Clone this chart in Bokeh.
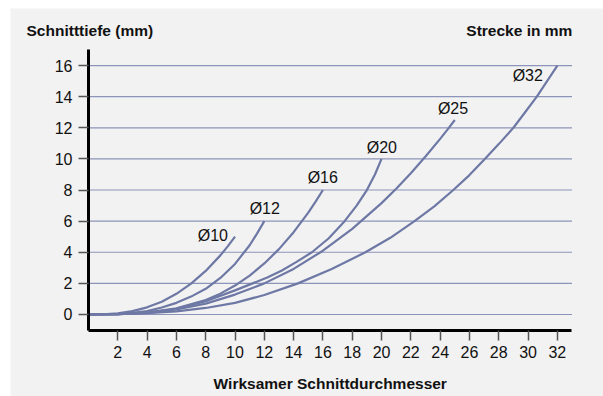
from bokeh.plotting import figure
from bokeh.models import Range1d, FixedTicker, Label
from bokeh.embed import file_html
from bokeh.resources import INLINE
from bokeh.core.properties import value

# ---- data ----
x_ticks = [2, 4, 6, 8, 10, 12, 14, 16, 18, 20, 22, 24, 26, 28, 30, 32]
y_ticks = [0, 2, 4, 6, 8, 10, 12, 14, 16]
x_axis_extent = (0, 33)
y_axis_extent = (-1, 17)

d10_x = [0, 1, 2, 3, 4, 5, 6, 7, 8, 9, 9.5, 10]
d10_y = [0, 0.01, 0.07, 0.22, 0.46, 0.82, 1.33, 1.98, 2.8, 3.8, 4.38, 5]

d12_x = [0, 2, 3, 4, 5, 6, 7, 8, 9, 10, 11, 11.5, 12]
d12_y = [0, 0.03, 0.1, 0.22, 0.45, 0.75, 1.15, 1.65, 2.35, 3.25, 4.45, 5.2, 6]

d16_x = [0, 2, 4, 6, 8, 9, 10, 11, 12, 13, 14, 15, 15.5, 16]
d16_y = [0, 0.02, 0.13, 0.4, 0.93, 1.34, 1.86, 2.5, 3.28, 4.2, 5.29, 6.55, 7.25, 8]

d20_x = [0, 2, 4, 6, 8, 10, 11.2, 12.2, 13.2, 14.2, 15.25, 16.4, 17.48, 18.3, 19, 19.55, 20]
d20_y = [0, 0.02, 0.12, 0.36, 0.85, 1.55, 2, 2.38, 2.83, 3.38, 4, 4.9, 6, 7, 8, 9, 10]

d25_x = [0, 2, 4, 6, 8, 10, 12, 14, 16, 18, 20, 21, 22, 23, 24, 24.5, 25]
d25_y = [0, 0.02, 0.11, 0.33, 0.7, 1.28, 2.0, 2.93, 4.1, 5.5, 7.16, 8.08, 9.08, 10.15, 11.29, 11.88, 12.5]

d32_x = [0, 2, 4, 6, 8, 10, 12, 14.3, 16.6, 18.9, 20.6, 22.25, 23.6, 24.9, 26, 27.05, 28, 29, 29.8, 30.6, 31.3, 32]
d32_y = [0, 0.02, 0.08, 0.2, 0.42, 0.75, 1.25, 2, 2.92, 4, 4.93, 6, 6.95, 8, 8.96, 10, 10.95, 12, 13, 14, 15, 16]

curve_names = ["Ø10", "Ø12", "Ø16", "Ø20", "Ø25", "Ø32"]
label_x = [8.49, 12.03, 15.99, 20.02, 24.88, 29.98]
label_y = [5.08, 6.82, 8.79, 10.76, 13.24, 15.39]

curves_x = [d10_x, d12_x, d16_x, d20_x, d25_x, d32_x]
curves_y = [d10_y, d12_y, d16_y, d20_y, d25_y, d32_y]

y_title = "Schnitttiefe (mm)"
right_title = "Strecke in mm"
x_title = "Wirksamer Schnittdurchmesser"

# ---- styling ----
BG = "#f2f2f2"
CURVE = "#6e78a5"
GRID = "#8c94ba"
FONT = "Liberation Sans"
TXT = "#111111"

p = figure(width=593, height=388, output_backend="svg",
           toolbar_location=None,
           x_range=Range1d(-5.324, 35.15), y_range=Range1d(-5.27, 19.666),
           min_border=0)
p.margin = (8, 0, 0, 10)
p.title.visible = False
p.background_fill_color = BG
p.border_fill_color = BG
p.outline_line_color = None
p.xgrid.visible = False
p.ygrid.visible = False

# horizontal grid lines at the y ticks, spanning the x axis extent
p.segment(x0=[x_axis_extent[0]] * len(y_ticks), x1=[x_axis_extent[1]] * len(y_ticks),
          y0=y_ticks, y1=y_ticks, line_color=GRID, line_width=1.2)

p.xaxis.ticker = FixedTicker(ticks=x_ticks)
p.yaxis.ticker = FixedTicker(ticks=y_ticks)
p.xaxis.fixed_location = y_axis_extent[0]
p.yaxis.fixed_location = x_axis_extent[0]
p.xaxis.bounds = x_axis_extent
p.yaxis.bounds = y_axis_extent

for ax in (p.xaxis[0], p.yaxis[0]):
    ax.axis_line_width = 3
    ax.axis_line_color = "black"
    ax.major_tick_line_color = "#555555"
    ax.major_tick_line_width = 1.5
    ax.major_tick_out = 10
    ax.major_tick_in = 0
    ax.minor_tick_line_color = None
    ax.major_label_text_font = FONT
    ax.major_label_text_font_size = "16px"
    ax.major_label_text_color = TXT
p.xaxis.major_label_standoff = 6
p.yaxis.major_label_standoff = 6

for cx, cy in zip(curves_x, curves_y):
    p.line(cx, cy, line_color=CURVE, line_width=2.2)

p.text(x=label_x, y=label_y, text=curve_names, text_align="center",
       text_baseline="alphabetic", text_font=value(FONT),
       text_font_size=value("16px"), text_color=TXT)

common = dict(text_baseline="alphabetic", text_font=FONT, text_font_style="bold",
              text_font_size="15.5px", text_color=TXT)
p.add_layout(Label(x=-4.23, y=18.23, text=y_title, text_align="left", **common))
p.add_layout(Label(x=33.02, y=18.23, text=right_title, text_align="right", **common))
p.add_layout(Label(x=16.5, y=-4.43, text=x_title, text_align="center", **common))

open("out.html", "w").write(file_html(p, INLINE))
